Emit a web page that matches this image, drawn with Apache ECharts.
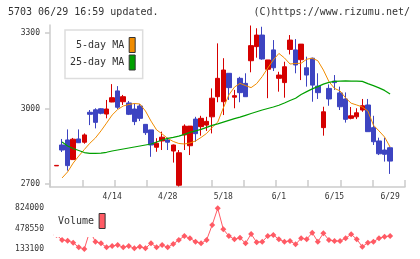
<!DOCTYPE html>
<html>
<head>
<meta charset="utf-8">
<script src="https://cdn.jsdelivr.net/npm/echarts@6/dist/echarts.min.js"></script>
<style>
html, body { margin: 0; padding: 0; background: #fff; }
#chart { width: 420px; height: 259px; }
</style>
</head>
<body>
<div id="chart"></div>
<script>
// trading days 2020/3/31 - 6/29
var dates = ['3/31','4/1','4/2','4/3','4/6','4/7','4/8','4/9','4/10','4/13',
	'4/14','4/15','4/16','4/17','4/20','4/21','4/22','4/23','4/24','4/27',
	'4/28','4/30','5/1','5/7','5/8','5/11','5/12','5/13','5/14','5/15',
	'5/18','5/19','5/20','5/21','5/22','5/25','5/26','5/27','5/28','5/29',
	'6/1','6/2','6/3','6/4','6/5','6/8','6/9','6/10','6/11','6/12',
	'6/15','6/16','6/17','6/18','6/19','6/22','6/23','6/24','6/25','6/26',
	'6/29'];
var opens = [2772,2855,2875,2797,2879,2866,2985,2995,2999,2978,
	3026,3070,3027,3022,2998,3010,2937,2915,2846,2871,
	2875,2831,2695,2895,2852,2958,2928,2934,2967,3047,
	3027,3140,3045,3120,3100,3190,3246,3292,3156,3233,
	3120,3103,3235,3233,3194,3162,3200,3089,2924,3080,
	3109,3062,3038,2961,2967,2994,3014,2924,2871,2835,
	2844];
var closes = [2774,2835,2773,2878,2864,2895,2977,2945,2981,2998,
	3043,3005,3047,2977,2948,2961,2904,2855,2862,2886,
	2866,2855,2824,2930,2930,2900,2961,2949,3041,3120,
	3153,3083,3051,3063,3047,3250,3292,3197,3193,3162,
	3133,3166,3272,3173,3256,3133,3093,3063,2987,3038,
	3103,3007,2957,2971,2983,3011,2908,2868,2820,2818,
	2791];
var lows = [2772,2827,2753,2797,2863,2860,2934,2921,2977,2961,
	3025,2998,3014,2974,2934,2950,2895,2808,2828,2835,
	2835,2785,2690,2835,2815,2868,2892,2911,2901,3025,
	2974,3034,3001,3025,3047,3144,3202,3194,3041,3149,
	3067,3043,3215,3140,3113,3087,3027,3038,2892,3011,
	3074,2994,2944,2957,2958,2987,2908,2855,2815,2789,
	2740];
var highs = [2774,2879,2917,2883,2917,2901,2994,3001,3001,3034,
	3097,3089,3054,3030,3021,3018,2937,2915,2882,2908,
	2884,2857,2835,2937,2930,2967,2971,2967,3080,3259,
	3200,3140,3074,3126,3140,3330,3319,3325,3193,3272,
	3146,3186,3292,3276,3256,3206,3202,3140,3007,3096,
	3133,3087,3064,3006,3001,3038,3038,2971,2884,2884,
	2848];
var ma5 = ['-',2724,2748,2783,2811,2837,2862,2883,2911,2942,
	2974,2996,3010,3016,3020,3018,2990,2950,2915,2899,
	2881,2869,2861,2859,2863,2871,2885,2901,2925,2946,
	3002,3054,3085,3100,3091,3083,3099,3127,3161,3193,
	3219,3201,3177,3179,3180,3196,3200,3190,3153,3107,
	3080,3070,3042,3021,3014,3006,2990,2934,2911,2887,
	2847];
var ma25 = ['-',2867,2851,2841,2833,2825,2822,2822,2823,2826,
	2831,2835,2839,2843,2847,2851,2855,2859,2867,2875,
	2881,2885,2890,2897,2905,2911,2917,2925,2933,2939,
	2946,2953,2960,2966,2973,2980,2987,2994,3000,3006,
	3013,3022,3032,3041,3056,3067,3078,3087,3097,3104,
	3108,3109,3110,3109,3109,3108,3099,3091,3082,3072,
	3058];
var volumes = [371000,286000,274000,240000,162000,133100,439000,257000,230000,162000,
	184000,201000,162000,184000,145000,172000,145000,230000,162000,201000,
	162000,218000,286000,354000,315000,257000,230000,286000,540000,824000,
	467000,354000,298000,325000,230000,388000,247000,257000,354000,371000,
	298000,257000,269000,213000,315000,298000,410000,257000,400000,286000,
	269000,269000,315000,383000,298000,172000,240000,257000,315000,342000,
	354000];
var priceTicks = [2700, 3000, 3300];
var volumeTicks = [133100, 478550, 824000];
var dateLabelIdx = [10, 20, 30, 40, 50, 60];

var MONO = 'DejaVu Sans Mono';
var UP = '#d50000', DOWN = '#3d44c1';
var xMin = -1.17, xMax = 62.68;

function plain(v) {
	return String(Math.round(v));
}

function DrawChart() {
	var candles = [], ma5Data = [], ma25Data = [], volData = [];
	for (var i = 0; i < dates.length; i++) {
		candles.push([i, opens[i], closes[i], lows[i], highs[i]]);
		ma5Data.push([i, ma5[i]]);
		ma25Data.push([i, ma25[i]]);
		volData.push([i, volumes[i]]);
	}
	// 11 equal tick divisions along the date axis
	var xTicks = [];
	for (var k = 0; k <= 11; k++) xTicks.push(xMin + k * (xMax - xMin) / 11);

	var labelStyle = { fontFamily: MONO, fontSize: 8, color: '#333' };
	var legendBase = {
		orient: 'vertical', align: 'right', icon: 'rect',
		itemWidth: 6, itemHeight: 15, itemGap: 1.5, selectedMode: false,
		backgroundColor: '#fff',
		textStyle: { fontFamily: MONO, fontSize: 10, color: '#333' },
		itemStyle: { borderColor: '#333', borderWidth: 1 }
	};

	var chart = echarts.init(document.getElementById('chart'));
	var option = {
		animation: false,
		title: [
			{ text: '5703 06/29 16:59 updated.', left: 8, top: 7, padding: 0,
				textStyle: { fontFamily: MONO, fontSize: 10, fontWeight: 'normal', color: '#333' } },
			{ text: '(C)https://www.rizumu.net/', right: 10, top: 7, padding: 0,
				textStyle: { fontFamily: MONO, fontSize: 10, fontWeight: 'normal', color: '#333' } }
		],
		legend: [
			Object.assign({}, legendBase, {
				data: ['5-day MA', '25-day MA'], left: 65, top: 30,
				padding: [7, 7, 8, 5], borderColor: '#ddd', borderWidth: 1.5
			}),
			Object.assign({}, legendBase, {
				data: ['Volume'], left: 54, top: 206, padding: [7, 6, 8, 4], borderWidth: 0
			})
		],
		grid: [
			{ left: 50, top: 25, width: 355, height: 162 },
			{ left: 50, top: 208.3, width: 355, height: 40.7 }
		],
		xAxis: [
			{
				type: 'value', gridIndex: 0, min: xMin, max: xMax,
				axisLine: { onZero: false, lineStyle: { color: '#ccc', width: 1.5 } },
				axisTick: { inside: true, length: 7, customValues: xTicks, lineStyle: { color: '#ccc', width: 1.5 } },
				axisLabel: Object.assign({ customValues: dateLabelIdx, margin: 6,
					formatter: function (v) { return dates[Math.round(v)]; } }, labelStyle),
				splitLine: { show: false }
			},
			{
				type: 'value', gridIndex: 1, min: xMin, max: xMax, show: false,
				splitLine: { show: false }
			}
		],
		yAxis: [
			{
				type: 'value', gridIndex: 0, min: 2688, max: 3332,
				axisLine: { show: true, onZero: false, lineStyle: { color: '#ccc', width: 1.5 } },
				axisTick: { show: true, length: 5, customValues: priceTicks, lineStyle: { color: '#ccc', width: 1.5 } },
				axisLabel: Object.assign({ customValues: priceTicks, margin: 10, formatter: plain }, labelStyle),
				splitLine: { show: false }
			},
			{
				type: 'value', gridIndex: 1, min: 133100, max: 824000,
				axisLine: { show: false, onZero: false },
				axisTick: { show: false },
				axisLabel: Object.assign({ customValues: volumeTicks, margin: 6, formatter: plain }, labelStyle),
				splitLine: { show: false }
			}
		],
		series: [
			{
				name: 'price', type: 'candlestick', xAxisIndex: 0, yAxisIndex: 0,
				barWidth: 5,
				encode: { x: 0, y: [1, 2, 3, 4] },
				itemStyle: { color: UP, color0: DOWN, borderColor: UP, borderColor0: DOWN, borderWidth: 1 },
				data: candles
			},
			{
				name: '5-day MA', type: 'line', xAxisIndex: 0, yAxisIndex: 0,
				symbol: 'none', color: '#f08c00', lineStyle: { width: 1 },
				data: ma5Data
			},
			{
				name: '25-day MA', type: 'line', xAxisIndex: 0, yAxisIndex: 0,
				symbol: 'none', color: '#00a000', lineStyle: { width: 1.2 },
				data: ma25Data
			},
			{
				name: 'Volume', type: 'line', xAxisIndex: 1, yAxisIndex: 1,
				symbol: 'diamond', symbolSize: 6, color: '#ff5a64',
				lineStyle: { width: 1 }, clip: false,
				data: volData
			}
		]
	};
	chart.setOption(option);
}

DrawChart();
</script>
</body>
</html>
